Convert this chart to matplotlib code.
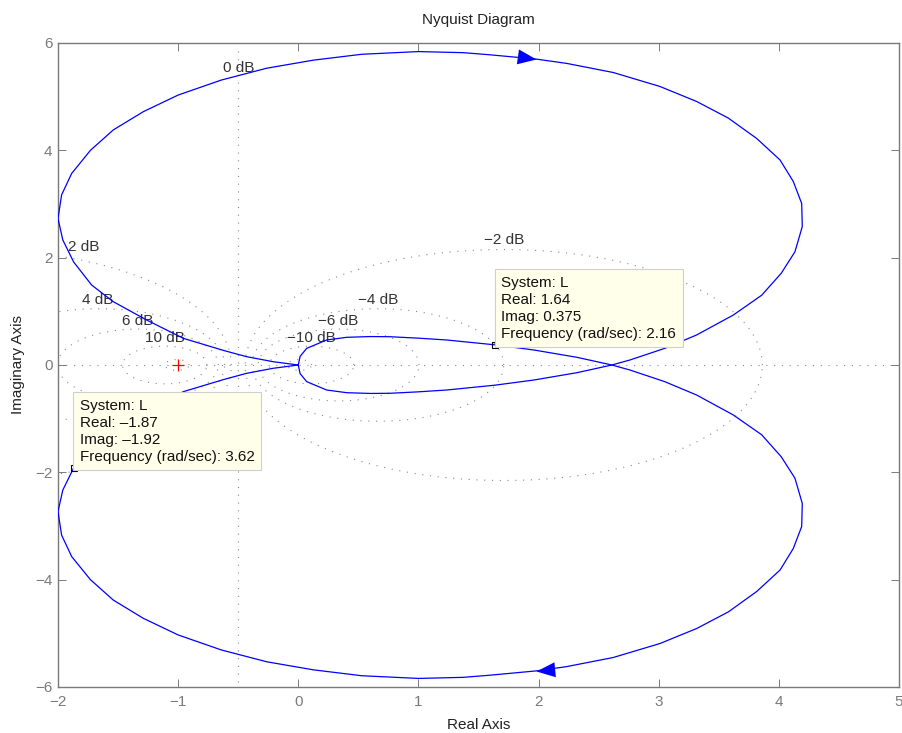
import numpy as np
import matplotlib
matplotlib.use("Agg")
import matplotlib.pyplot as plt
from matplotlib.path import Path
from matplotlib.markers import MarkerStyle
from matplotlib.transforms import Affine2D


OUT_PATH = "out.png"

# positive-frequency branch of L(jw) (w: 0 -> inf)
RE_POS = [0.0, 0.015, 0.07, 0.236, 0.403, 0.6, 0.763, 1.0, 1.235, 1.64, 1.96, 2.32, 2.61,
          2.76, 3.05, 3.316, 3.62, 3.857, 4.02, 4.134, 4.195, 4.19, 4.12, 4.01, 3.816,
          3.58, 3.316, 3.01, 2.622, 2.234, 1.98, 1.596, 1.373, 1.0, 0.528, 0.125,
          -0.263, -0.64, -1.0, -1.29, -1.54, -1.73, -1.886, -1.97, -2.0, -1.96, -1.87,
          -1.72, -1.54, -1.262, -0.957, -0.62, -0.43, -0.208, 0.0]
IM_POS = [0.0, 0.16, 0.31, 0.466, 0.516, 0.53, 0.527, 0.50, 0.466, 0.375, 0.28, 0.143, 0.0,
          -0.093, -0.31, -0.56, -0.93, -1.30, -1.71, -2.11, -2.58, -3.01, -3.42, -3.82, -4.22,
          -4.60, -4.91, -5.19, -5.45, -5.62, -5.70, -5.78, -5.82, -5.84, -5.79, -5.68,
          -5.53, -5.31, -5.03, -4.72, -4.38, -4.0, -3.57, -3.17, -2.73, -2.33, -1.92,
          -1.49, -1.18, -0.838, -0.497, -0.27, -0.155, -0.061, 0.0]
ARROW_IDX = 30  # point on the curve where the direction arrow sits

# M-circle levels of the grid (dB)
GRID_DB = [-20, -10, -6, -4, -2, 2, 4, 6, 10, 20]
# labels and where they were printed
LABEL_TEXT = ["0 dB", "2 dB", "4 dB", "6 dB", "10 dB", "\u22122 dB", "\u22124 dB", "\u22126 dB", "\u221210 dB"]
LABEL_X = [-0.50, -1.79, -1.667, -1.338, -1.114, 1.71, 0.666, 0.333, 0.111]
LABEL_Y = [5.54, 2.19, 1.21, 0.82, 0.51, 2.32, 1.21, 0.82, 0.51]

# data tips
TIP_RE = [1.64, -1.87]
TIP_IM = [0.375, -1.92]
TIP_FREQ = [2.16, 3.62]

FS = 11


def fmt(v):
    return f"{v:g}".replace("-", "\u2013")


def dotted(ax, x, y):
    ax.plot(x, y, color="#8a8a8a", lw=0.8, ls=(0, (1, 6)), zorder=1, clip_on=True)


def main():
    plt.rcParams["font.family"] = ["Liberation Sans", "DejaVu Sans"]
    plt.rcParams["axes.unicode_minus"] = True

    fig = plt.figure(figsize=(9.02, 7.33), dpi=100)
    ax = fig.add_axes([58 / 902, 46 / 733, 841 / 902, 644 / 733])
    ax.set_xlim(-2, 5)
    ax.set_ylim(-6, 6)

    # grid: real axis, 0 dB line and M-circles
    dotted(ax, [-2, 5], [0, 0])
    dotted(ax, [-0.5, -0.5], [-5.9, 5.9])
    t = np.linspace(0, 2 * np.pi, 400)
    for db in GRID_DB:
        m = 10 ** (db / 20)
        c = -m ** 2 / (m ** 2 - 1)
        r = abs(m / (m ** 2 - 1))
        dotted(ax, c + r * np.cos(t), r * np.sin(t))
    for txt, lx, ly in zip(LABEL_TEXT, LABEL_X, LABEL_Y):
        ax.text(lx, ly, txt, ha="center", va="center", fontsize=FS, color="#333333", zorder=2)

    re = np.array(RE_POS)
    im = np.array(IM_POS)
    ax.plot(re, im, color="#0000ff", lw=0.9, zorder=3)
    ax.plot(re, -im, color="#0000ff", lw=0.9, zorder=3)

    # critical point
    ax.plot([-1], [0], marker="+", color="red", ms=9, mew=0.9, zorder=4)

    # direction arrows, tip on the curve
    tri = Path([(0, 0), (-1, 0.4), (-1, -0.4), (0, 0)],
               [Path.MOVETO, Path.LINETO, Path.LINETO, Path.CLOSEPOLY])
    fig.canvas.draw()
    for sign, step in [(1, 1), (-1, -1)]:
        i = ARROW_IDX
        p0 = ax.transData.transform((re[i], sign * im[i]))
        p1 = ax.transData.transform((re[i + step], sign * im[i + step]))
        d = p1 - p0
        ang = np.degrees(np.arctan2(d[1], d[0]))
        ms = MarkerStyle(tri, transform=Affine2D().rotate_deg(ang))
        ax.plot([re[i]], [sign * im[i]], marker=ms, ms=27, color="#0000ff", mew=0, zorder=4)

    # data tips
    for tr, ti, tf in zip(TIP_RE, TIP_IM, TIP_FREQ):
        ax.plot([tr], [ti], marker="s", ms=5, mfc="none", mec="black", mew=0.8, zorder=5)
        txt = f"System: L\nReal: {fmt(tr)}\nImag: {fmt(ti)}\nFrequency (rad/sec): {fmt(tf)}"
        ax.annotate(txt, xy=(tr, ti), xytext=(6, 4), textcoords="offset pixels",
                    ha="left", va="bottom", fontsize=FS, color="#111111",
                    linespacing=1.28, zorder=6,
                    bbox=dict(boxstyle="square,pad=0.42", fc="#ffffea", ec="#cfcfcf", lw=0.8))

    ax.set_xticks(range(-2, 6))
    ax.set_yticks(range(-6, 7, 2))
    ax.tick_params(direction="in", length=6, width=0.7, colors="#7a7a7a",
                   top=True, right=True, labelsize=FS, pad=6)
    ax.tick_params(axis="y", pad=4)
    for sp in ax.spines.values():
        sp.set_color("#7a7a7a")
        sp.set_linewidth(1.0)

    ax.set_title("Nyquist Diagram", fontsize=FS, color="#222222", pad=14)
    ax.set_xlabel("Real Axis", fontsize=FS, color="#222222", labelpad=6)
    ax.set_ylabel("Imaginary Axis", fontsize=FS, color="#222222", labelpad=7)

    fig.savefig(OUT_PATH, dpi=100)


if __name__ == "__main__":
    main()
